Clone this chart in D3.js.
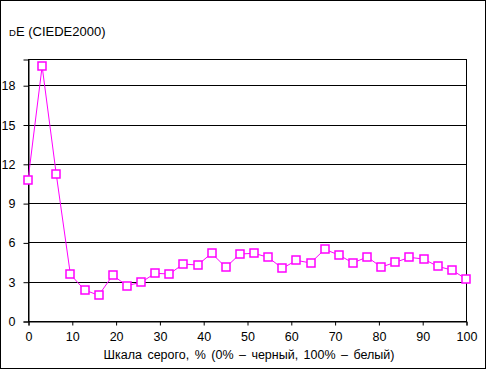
<!DOCTYPE html>
<html>
<head>
<meta charset="utf-8">
<script src="https://cdn.jsdelivr.net/npm/d3@7"></script>
<style>
  body { margin: 0; background: #fff; }
  text { font-family: "Liberation Sans", Arial, sans-serif; fill: #000; }
</style>
</head>
<body>
<div id="chart"></div>
<script>
"use strict"

/* values */
let grayScale = d3.range(32).map(i => i * 100 / 31);
let deltaE = [10.74, 19.44, 11.2, 3.56, 2.37, 1.96, 3.49, 2.70, 2.95, 3.64,
              3.59, 4.35, 4.27, 5.17, 4.10, 5.11, 5.17, 4.86, 4.02, 4.63,
              4.43, 5.47, 5.04, 4.43, 4.89, 4.12, 4.48, 4.86, 4.73, 4.17,
              3.89, 3.21];
let yTicks = [0, 3, 6, 9, 12, 15, 18];
let xTicks = [0, 10, 20, 30, 40, 50, 60, 70, 80, 90, 100];

let W = 487, H = 371;
let plotL = 28, plotR = 466, plotT = 59, plotB = 321;

let svg = d3.select("#chart")
    .append("svg")
    .attr("width", W)
    .attr("height", H);

// outer frame of the chart
svg.append("rect")
    .attr("x", 0.5).attr("y", 0.5)
    .attr("width", 485).attr("height", 368)
    .attr("fill", "#fff")
    .attr("stroke", "#000");

let x = d3.scaleLinear().domain([0, 100]).range([plotL, plotR]);
let y = d3.scaleLinear().domain([0, 20]).range([plotB, plotT]);

// horizontal grid
svg.append("g")
    .selectAll("line")
    .data(yTicks.filter(d => d > 0))
    .join("line")
    .attr("x1", plotL).attr("x2", plotR)
    .attr("y1", d => Math.round(y(d)) + 0.5)
    .attr("y2", d => Math.round(y(d)) + 0.5)
    .attr("stroke", "#000");

// plot border
svg.append("rect")
    .attr("x", plotL + 0.5).attr("y", plotT + 0.5)
    .attr("width", plotR - plotL).attr("height", plotB - plotT)
    .attr("fill", "none")
    .attr("stroke", "#000");

let yAxis = svg.append("g")
    .attr("transform", `translate(${plotL + 0.5},0.5)`)
    .call(d3.axisLeft(y).tickValues(yTicks).tickSize(5).tickPadding(8).tickFormat(d3.format("d")));
let xAxis = svg.append("g")
    .attr("transform", `translate(0.5,${plotB + 0.5})`)
    .call(d3.axisBottom(x).tickValues(xTicks).tickSize(4).tickPadding(7).tickFormat(d3.format("d")));

[yAxis, xAxis].forEach(a => {
    a.attr("font-family", null).attr("font-size", null);
    a.select(".domain").attr("stroke", "#000");
    a.selectAll(".tick line").attr("stroke", "#000");
    a.selectAll("text").style("font-size", "12.5px").attr("fill", "#000");
});

// the data line and markers
svg.append("path")
    .datum(deltaE)
    .attr("d", d3.line().x((d, i) => x(grayScale[i])).y(d => y(d)))
    .attr("fill", "none")
    .attr("stroke", "#ff00ff")
    .attr("stroke-width", 1);

svg.append("g")
    .selectAll("rect")
    .data(deltaE)
    .join("rect")
    .attr("x", (d, i) => Math.round(x(grayScale[i])) - 4)
    .attr("y", d => Math.round(y(d)) - 4)
    .attr("width", 8).attr("height", 8)
    .attr("fill", "#fff")
    .attr("stroke", "#ff00ff")
    .attr("stroke-width", 1.5);

// titles
let t = svg.append("text").attr("x", 9).attr("y", 36).style("font-size", "13px");
t.append("tspan").style("font-size", "9.5px").text("D");
t.append("tspan").text("E (CIEDE2000)");

svg.append("text")
    .attr("x", 249).attr("y", 359)
    .attr("text-anchor", "middle")
    .style("font-size", "12.5px")
    .style("word-spacing", "2px")
    .text("Шкала серого, % (0% – черный, 100% – белый)");
</script>
</body>
</html>
